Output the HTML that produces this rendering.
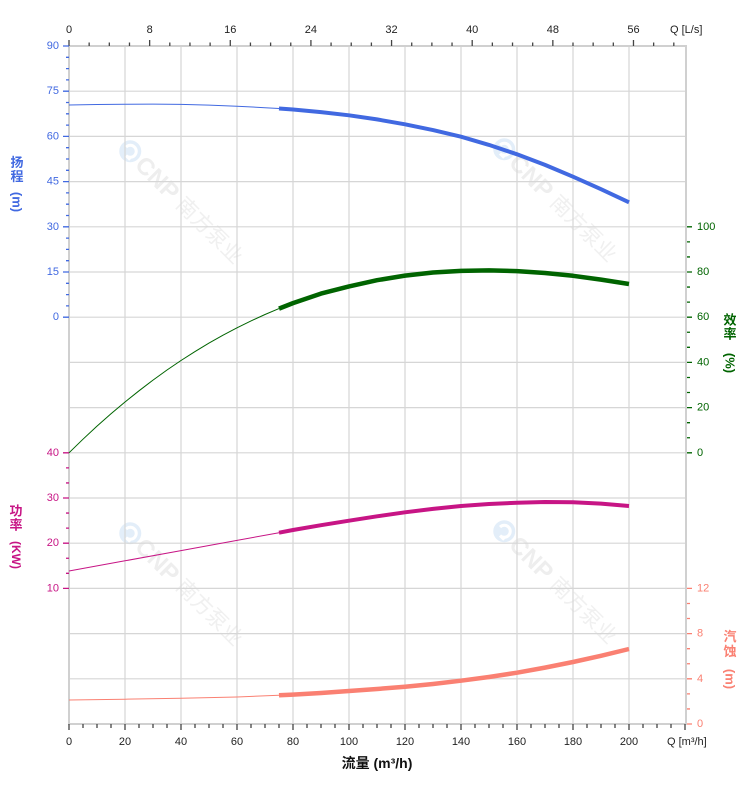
<!DOCTYPE html>
<html>
<head>
<meta charset="utf-8">
<style>
html,body{margin:0;padding:0;background:#fff;}
svg{display:block;}
text{font-family:"Liberation Sans","Noto Sans CJK SC",sans-serif;}
</style>
</head>
<body>
<svg width="752" height="797" viewBox="0 0 752 797" xmlns="http://www.w3.org/2000/svg">
  <rect x="0" y="0" width="752" height="797" fill="#ffffff"/>

  <!-- watermarks -->
  <g>
    <g transform="translate(184,205) rotate(45)">
      <circle cx="-76" cy="0" r="11" fill="#e3eef9"/>
      <path d="M-82 0 a6 6 0 1 1 6 6 h6" fill="none" stroke="#ffffff" stroke-width="3"/>
      <text x="-63" y="8" font-size="24" font-weight="bold" fill="#eeeeee">CNP</text>
      <text x="-6" y="7" font-size="21" fill="#f0f0f0" font-family="Noto Sans CJK SC, sans-serif">南方泵业</text>
    </g>
    <g transform="translate(558,203) rotate(45)">
      <circle cx="-76" cy="0" r="11" fill="#e3eef9"/>
      <path d="M-82 0 a6 6 0 1 1 6 6 h6" fill="none" stroke="#ffffff" stroke-width="3"/>
      <text x="-63" y="8" font-size="24" font-weight="bold" fill="#eeeeee">CNP</text>
      <text x="-6" y="7" font-size="21" fill="#f0f0f0" font-family="Noto Sans CJK SC, sans-serif">南方泵业</text>
    </g>
    <g transform="translate(184,587) rotate(45)">
      <circle cx="-76" cy="0" r="11" fill="#e3eef9"/>
      <path d="M-82 0 a6 6 0 1 1 6 6 h6" fill="none" stroke="#ffffff" stroke-width="3"/>
      <text x="-63" y="8" font-size="24" font-weight="bold" fill="#eeeeee">CNP</text>
      <text x="-6" y="7" font-size="21" fill="#f0f0f0" font-family="Noto Sans CJK SC, sans-serif">南方泵业</text>
    </g>
    <g transform="translate(558,585) rotate(45)">
      <circle cx="-76" cy="0" r="11" fill="#e3eef9"/>
      <path d="M-82 0 a6 6 0 1 1 6 6 h6" fill="none" stroke="#ffffff" stroke-width="3"/>
      <text x="-63" y="8" font-size="24" font-weight="bold" fill="#eeeeee">CNP</text>
      <text x="-6" y="7" font-size="21" fill="#f0f0f0" font-family="Noto Sans CJK SC, sans-serif">南方泵业</text>
    </g>
  </g>

  <!-- grid -->
  <g stroke="#d6d6d6" stroke-width="1.2" fill="none">
    <path d="M69 91.2H686 M69 136.4H686 M69 181.6H686 M69 226.8H686 M69 272H686 M69 317.2H686 M69 362.4H686 M69 407.6H686 M69 452.8H686 M69 498H686 M69 543.2H686 M69 588.4H686 M69 633.6H686 M69 678.8H686"/>
    <path d="M125 46V724 M181 46V724 M237 46V724 M293 46V724 M349 46V724 M405 46V724 M461 46V724 M517 46V724 M573 46V724 M629 46V724"/>
  </g>
  <rect x="69" y="46" width="617" height="678" fill="none" stroke="#d0d0d0" stroke-width="2"/>

  <!-- top axis ticks -->
  <g stroke="#444" stroke-width="1.3">
    <path d="M69 40V46 M149.64 40V46 M230.28 40V46 M310.92 40V46 M391.56 40V46 M472.2 40V46 M552.84 40V46 M633.48 40V46"/>
    <path d="M89.16 42.5V46 M109.32 42.5V46 M129.48 42.5V46 M169.8 42.5V46 M189.96 42.5V46 M210.12 42.5V46 M250.44 42.5V46 M270.6 42.5V46 M290.76 42.5V46 M331.08 42.5V46 M351.24 42.5V46 M371.4 42.5V46 M411.72 42.5V46 M431.88 42.5V46 M452.04 42.5V46 M492.36 42.5V46 M512.52 42.5V46 M532.68 42.5V46 M573 42.5V46 M593.16 42.5V46 M613.32 42.5V46 M653.64 42.5V46 M673.8 42.5V46"/>
  </g>
  <g font-size="11" fill="#222" text-anchor="middle">
    <text x="69" y="33">0</text>
    <text x="149.64" y="33">8</text>
    <text x="230.28" y="33">16</text>
    <text x="310.92" y="33">24</text>
    <text x="391.56" y="33">32</text>
    <text x="472.2" y="33">40</text>
    <text x="552.84" y="33">48</text>
    <text x="633.48" y="33">56</text>
  </g>
  <text x="670" y="33" font-size="11" fill="#222">Q [L/s]</text>

  <!-- bottom axis ticks -->
  <g stroke="#444" stroke-width="1.3">
    <path d="M69 724V730 M125 724V730 M181 724V730 M237 724V730 M293 724V730 M349 724V730 M405 724V730 M461 724V730 M517 724V730 M573 724V730 M629 724V730 M685 724V730"/>
    <path d="M83 724v4 M97 724v4 M111 724v4 M139 724v4 M153 724v4 M167 724v4 M195 724v4 M209 724v4 M223 724v4 M251 724v4 M265 724v4 M279 724v4 M307 724v4 M321 724v4 M335 724v4 M363 724v4 M377 724v4 M391 724v4 M419 724v4 M433 724v4 M447 724v4 M475 724v4 M489 724v4 M503 724v4 M531 724v4 M545 724v4 M559 724v4 M587 724v4 M601 724v4 M615 724v4 M643 724v4 M657 724v4 M671 724v4"/>
  </g>
  <g font-size="11" fill="#222" text-anchor="middle">
    <text x="69" y="745">0</text>
    <text x="125" y="745">20</text>
    <text x="181" y="745">40</text>
    <text x="237" y="745">60</text>
    <text x="293" y="745">80</text>
    <text x="349" y="745">100</text>
    <text x="405" y="745">120</text>
    <text x="461" y="745">140</text>
    <text x="517" y="745">160</text>
    <text x="573" y="745">180</text>
    <text x="629" y="745">200</text>
  </g>
  <text x="667" y="745" font-size="11" fill="#222">Q [m³/h]</text>
  <text x="377" y="768" font-size="14" font-weight="bold" fill="#111" text-anchor="middle">流量 (m³/h)</text>

  <!-- head axis (left, blue) -->
  <g stroke="#4169E1" stroke-width="1.3">
    <path d="M63 46H69 M63 91.2H69 M63 136.4H69 M63 181.6H69 M63 226.8H69 M63 272H69 M63 317.2H69"/>
    <path d="M66 57.3H69 M66 68.6H69 M66 79.9H69 M66 102.5H69 M66 113.8H69 M66 125.1H69 M66 147.7H69 M66 159H69 M66 170.3H69 M66 192.9H69 M66 204.2H69 M66 215.5H69 M66 238.1H69 M66 249.4H69 M66 260.7H69 M66 283.3H69 M66 294.6H69 M66 305.9H69"/>
  </g>
  <g font-size="11" fill="#4169E1" text-anchor="end" dominant-baseline="central">
    <text x="59" y="46">90</text>
    <text x="59" y="91.2">75</text>
    <text x="59" y="136.4">60</text>
    <text x="59" y="181.6">45</text>
    <text x="59" y="226.8">30</text>
    <text x="59" y="272">15</text>
    <text x="59" y="317.2">0</text>
  </g>
  <g font-size="13" font-weight="bold" fill="#4169E1" text-anchor="middle" dominant-baseline="central">
    <text x="17" y="162.5">扬</text>
    <text x="17" y="176.7">程</text>
    <text transform="translate(17,202) rotate(90)">(m)</text>
  </g>

  <!-- power axis (left, magenta) -->
  <g stroke="#C71585" stroke-width="1.3">
    <path d="M63 452.8H69 M63 498H69 M63 543.2H69 M63 588.4H69"/>
    <path d="M66 467.87H69 M66 482.93H69 M66 513.07H69 M66 528.13H69 M66 558.27H69 M66 573.33H69"/>
  </g>
  <g font-size="11" fill="#C71585" text-anchor="end" dominant-baseline="central">
    <text x="59" y="452.8">40</text>
    <text x="59" y="498">30</text>
    <text x="59" y="543.2">20</text>
    <text x="59" y="588.4">10</text>
  </g>
  <g font-size="13" font-weight="bold" fill="#C71585" text-anchor="middle" dominant-baseline="central">
    <text x="16" y="511">功</text>
    <text x="16" y="525">率</text>
    <text transform="translate(16,555) rotate(90)" font-size="12">(KW)</text>
  </g>

  <!-- efficiency axis (right, green) -->
  <g stroke="#006400" stroke-width="1.3">
    <path d="M687 226.8H692 M687 272H692 M687 317.2H692 M687 362.4H692 M687 407.6H692 M687 452.8H692"/>
    <path d="M687 241.87H690 M687 256.93H690 M687 287.07H690 M687 302.13H690 M687 332.27H690 M687 347.33H690 M687 377.47H690 M687 392.53H690 M687 422.67H690 M687 437.73H690"/>
  </g>
  <g font-size="11" fill="#006400" dominant-baseline="central">
    <text x="697" y="226.8">100</text>
    <text x="697" y="272">80</text>
    <text x="697" y="317.2">60</text>
    <text x="697" y="362.4">40</text>
    <text x="697" y="407.6">20</text>
    <text x="697" y="452.8">0</text>
  </g>
  <g font-size="13" font-weight="bold" fill="#006400" text-anchor="middle" dominant-baseline="central">
    <text x="730" y="320">效</text>
    <text x="730" y="334">率</text>
    <text transform="translate(730,363) rotate(90)">(%)</text>
  </g>

  <!-- npsh axis (right, salmon) -->
  <g stroke="#FA8072" stroke-width="1.3">
    <path d="M687 588.4H692 M687 633.6H692 M687 678.8H692 M687 724H692"/>
    <path d="M687 603.47H690 M687 618.53H690 M687 648.67H690 M687 663.73H690 M687 693.87H690 M687 708.93H690"/>
  </g>
  <g font-size="11" fill="#FA8072" dominant-baseline="central">
    <text x="697" y="588.4">12</text>
    <text x="697" y="633.6">8</text>
    <text x="697" y="678.8">4</text>
    <text x="697" y="724">0</text>
  </g>
  <g font-size="13" font-weight="bold" fill="#FA8072" text-anchor="middle" dominant-baseline="central">
    <text x="730" y="636.5">汽</text>
    <text x="730" y="651.5">蚀</text>
    <text transform="translate(730,679) rotate(90)">(m)</text>
  </g>

  <!-- curves -->
  <g fill="none" stroke-linejoin="round">
    <polyline stroke="#4169E1" stroke-width="1" points="69,105 97,104.5 125,104.2 153,104.1 181,104.4 209,105.1 237,106.2 265,107.7 279,108.5"/>
    <polyline stroke="#4169E1" stroke-width="4" points="279,108.5 293,109.5 321,112.1 349,115.3 377,119.4 405,124.3 433,130.1 461,136.7 489,144.9 517,154.3 545,164.9 573,176.7 601,189.2 629,202.3"/>
    <polyline stroke="#006400" stroke-width="1" points="69,452.8 83,439.2 97,426.1 111,413.8 125,402 139,390.8 153,380.1 167,370 181,360.5 195,351.6 209,343.1 223,335.2 237,327.8 251,320.9 265,314.5 279,308.6"/>
    <polyline stroke="#006400" stroke-width="4.5" points="279,308.6 293,303.1 321,293.6 349,286.4 377,280.2 405,275.6 433,272.5 461,270.9 489,270.4 517,271.1 545,273 573,275.8 601,279.6 629,284"/>
    <polyline stroke="#C71585" stroke-width="1" points="69,571 125,560.8 181,550.6 237,540.4 279,532.7"/>
    <polyline stroke="#C71585" stroke-width="4" points="279,532.7 293,530 321,525.2 349,520.7 377,516.3 405,512.3 433,508.9 461,506 489,504 517,502.7 545,502 573,502.3 601,503.6 629,506"/>
    <polyline stroke="#FA8072" stroke-width="1" points="69,700 125,699.2 181,698.3 237,697 279,695.3"/>
    <polyline stroke="#FA8072" stroke-width="4.5" points="279,695.3 293,694.6 321,693 349,691 377,689 405,686.7 433,684 461,680.7 489,677 517,672.7 545,667.6 573,662 601,655.8 629,649"/>
  </g>
</svg>
</body>
</html>
